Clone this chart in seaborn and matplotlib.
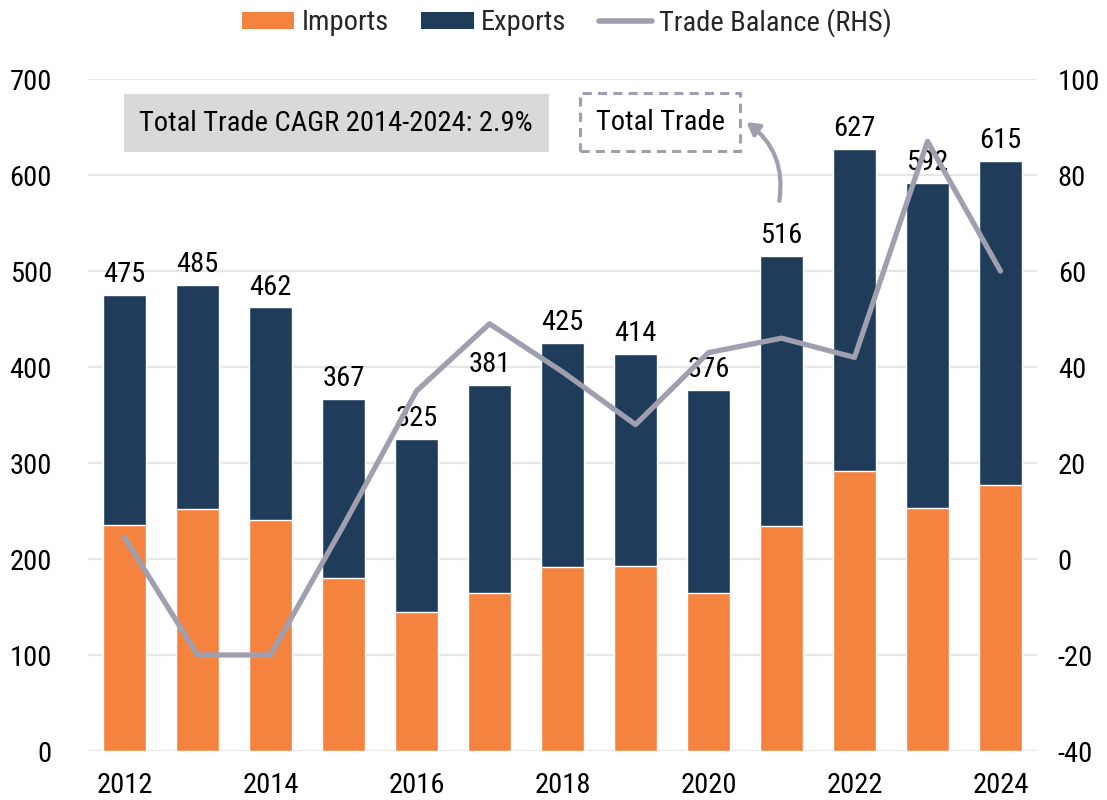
import matplotlib
matplotlib.use("Agg")
import matplotlib.pyplot as plt
import seaborn as sns
import pandas as pd
from matplotlib import font_manager as fm
from matplotlib.patches import Patch
from matplotlib.lines import Line2D

# ---- data ----
years = ["2012", "2013", "2014", "2015", "2016", "2017", "2018",
         "2019", "2020", "2021", "2022", "2023", "2024"]
imports = [235, 252, 241, 180, 145, 165, 192, 193, 165, 234, 292, 253, 277]
exports = [240, 233, 221, 187, 180, 216, 233, 221, 211, 282, 335, 339, 338]
trade_balance = [4.5, -20, -20, 7, 35, 49, 39, 28, 43, 46, 42, 87, 60]
total_labels = ["475", "485", "462", "367", "325", "381", "425",
                "414", "376", "516", "627", "592", "615"]
xtick_labels = ["2012", "2014", "2016", "2018", "2020", "2022", "2024"]

ORANGE = "#F48340"
NAVY = "#1F3C5A"
GREY = "#A09FB0"
GRID = "#E6E6E6"

sns.set_theme(style="white")
available = {f.name for f in fm.fontManager.ttflist}
narrow = None
for cand in ["Arial Narrow", "Liberation Sans Narrow", "Nimbus Sans Narrow",
             "Roboto Condensed", "PT Sans Narrow", "Archivo Narrow"]:
    if cand in available:
        narrow = cand
        break
families = ([narrow] if narrow else []) + ["Liberation Sans", "DejaVu Sans"]
plt.rcParams["font.family"] = families
plt.rcParams["axes.unicode_minus"] = False
FS = 20.5

df = pd.DataFrame({"year": years, "imports": imports, "exports": exports})
df["total"] = df["imports"] + df["exports"]

fig = plt.figure(figsize=(11.07, 8.0), dpi=100)
ax = fig.add_axes([88 / 1107, 49 / 800, 949 / 1107, 672 / 800])

sns.barplot(data=df, x="year", y="total", color=NAVY, width=0.58,
            saturation=1, ax=ax, zorder=2)
sns.barplot(data=df, x="year", y="imports", color=ORANGE, width=0.58,
            saturation=1, ax=ax, zorder=3)

ax.set_xlim(-0.5, 12.5)
ax.set_ylim(0, 700)
ax.set_yticks(range(0, 701, 100))
ax.set_xticks([years.index(y) for y in xtick_labels])
ax.set_xticklabels(xtick_labels)
ax.set_xlabel("")
ax.set_ylabel("")
ax.yaxis.grid(True, color=GRID, linewidth=1.6, zorder=0)
ax.set_axisbelow(True)
for s in ax.spines.values():
    s.set_visible(False)
ax.tick_params(axis="both", length=0, labelsize=FS, colors="black")
ax.tick_params(axis="y", pad=26)
ax.tick_params(axis="x", pad=15)

for i, (tot, lab) in enumerate(zip(df["total"], total_labels)):
    ax.annotate(lab, (i, tot), xytext=(0, 5), textcoords="offset points",
                ha="center", va="bottom", fontsize=FS, color="black", zorder=6)

ax2 = ax.twinx()
sns.lineplot(x=list(range(len(years))), y=trade_balance, color=GREY,
             linewidth=3.8, ax=ax2, zorder=5, solid_capstyle="round",
             solid_joinstyle="round")
ax2.set_ylim(-40, 100)
ax2.set_yticks(range(-40, 101, 20))
ax2.set_xlim(-0.5, 12.5)
for s in ax2.spines.values():
    s.set_visible(False)
ax2.tick_params(axis="y", length=0, labelsize=FS, pad=15, colors="black")
ax2.grid(False)

# annotations
ax.text(2.9, 654, "Total Trade CAGR 2014-2024: 2.9%", ha="center", va="center",
        fontsize=FS, color="black", zorder=7,
        bbox=dict(boxstyle="square,pad=0.55", fc="#D9D9D9", ec="none"))
ax.text(7.34, 655, "Total Trade", ha="center", va="center",
        fontsize=FS, color="black", zorder=7,
        bbox=dict(boxstyle="square,pad=0.55", fc="white", ec=GREY,
                  linestyle=(0, (3, 2)), linewidth=2.2))
ax.annotate("", xy=(8.52, 655), xytext=(8.97, 573),
            arrowprops=dict(arrowstyle="-|>,head_length=0.6,head_width=0.35",
                            color=GREY, lw=3,
                            connectionstyle="arc3,rad=0.3",
                            shrinkA=0, shrinkB=0), zorder=7)

handles = [Patch(facecolor=ORANGE, edgecolor="none", label="Imports"),
           Patch(facecolor=NAVY, edgecolor="none", label="Exports"),
           Line2D([0], [0], color=GREY, lw=4, label="Trade Balance (RHS)",
                  solid_capstyle="round")]
fig.legend(handles=handles, loc="center", bbox_to_anchor=(0.512, 0.972),
           ncol=3, frameon=False, fontsize=FS, handlelength=1.85,
           handletextpad=0.25, columnspacing=1.15, handleheight=0.55)

fig.savefig("out.png", dpi=100)
